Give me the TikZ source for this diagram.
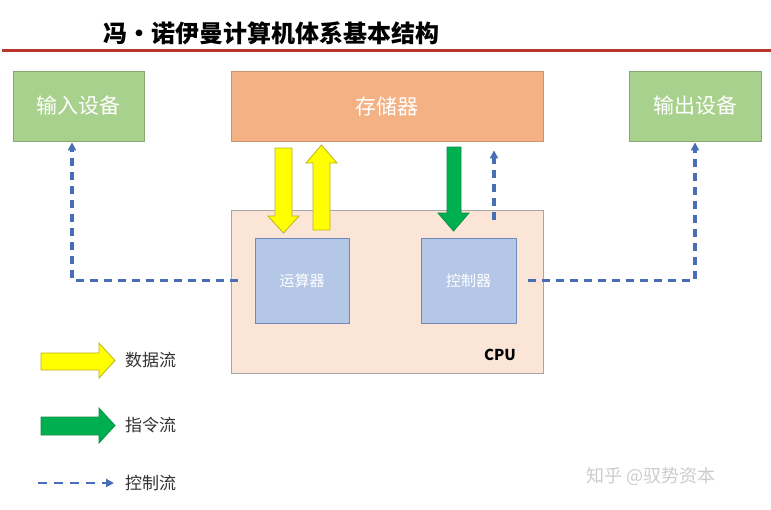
\documentclass[tikz,border=0pt]{standalone}
\usepackage{fontspec}
\setmainfont{Noto Sans CJK SC}
\usetikzlibrary{arrows.meta}
\definecolor{boxgreen}{HTML}{A9D18E}
\definecolor{boxgreenline}{HTML}{86A872}
\definecolor{memor}{HTML}{F4B183}
\definecolor{memline}{HTML}{C9946C}
\definecolor{cpufill}{HTML}{FBE5D6}
\definecolor{cpuline}{HTML}{A6A6A6}
\definecolor{unitfill}{HTML}{B4C7E7}
\definecolor{unitline}{HTML}{6F89B8}
\definecolor{ylw}{HTML}{FFFF00}
\definecolor{ylwline}{HTML}{BDB21A}
\definecolor{grn}{HTML}{00B050}
\definecolor{grnline}{HTML}{0A8F45}
\definecolor{ctrlblue}{HTML}{4A6EB5}
\definecolor{titlered}{HTML}{B7372C}
\definecolor{legtext}{HTML}{333333}
\tikzset{
  devbox/.style={draw=boxgreenline, line width=0.8pt, fill=boxgreen, text=white, font=\fontsize{21}{24}\selectfont, minimum width=131pt, minimum height=70pt, inner sep=0pt},
  membox/.style={draw=memline, line width=0.8pt, fill=memor, text=white, font=\fontsize{21}{24}\selectfont, minimum width=312pt, minimum height=70pt, inner sep=0pt},
  cpubox/.style={draw=cpuline, line width=0.8pt, fill=cpufill, minimum width=312pt, minimum height=163pt, inner sep=0pt},
  unitbox/.style={draw=unitline, line width=0.8pt, fill=unitfill, text=white, font=\fontsize{15}{18}\selectfont, minimum width=94pt, minimum height=85pt, inner sep=0pt},
  ctrl/.style={draw=ctrlblue, line width=3.2pt, dash pattern=on 8pt off 6pt, -{Triangle[length=8pt,width=8pt]}},
  yarrow/.style={draw=ylwline, line width=0.8pt, fill=ylw, line join=miter},
  garrow/.style={draw=grnline, line width=0.8pt, fill=grn, line join=miter},
  legend/.style={text=legtext, font=\fontsize{17}{20}\selectfont, anchor=west, inner sep=0pt},
}
\begin{document}
\begin{tikzpicture}[x=1pt,y=-1pt]
\useasboundingbox[fill=white] (0,0) rectangle (771,509);
% title
\node[font=\fontsize{24}{27}\selectfont\bfseries, anchor=west, inner sep=0pt] (title) at (103,33) {冯•诺伊曼计算机体系基本结构};
\draw[titlered, line width=3pt] (2,50) -- (771,50);
% boxes
\node[cpubox] (cpu) at (387,291.5) {};
\node[devbox] (in) at (78.5,106) {输入设备};
\node[membox] (mem) at (387,106) {存储器};
\node[devbox, minimum width=132pt] (out) at (695,106) {输出设备};
\node[unitbox] (alu) at (302,280.5) {运算器};
\node[unitbox, minimum width=95pt] (ctl) at (468.5,280.5) {控制器};
\node[font=\fontsize{15}{18}\selectfont\bfseries, inner sep=0pt] (cpulabel) at (500,355) {CPU};
% data flow arrows
\draw[yarrow] (275,148) -- (292,148) -- (292,216) -- (299,216) -- (283.5,233) -- (268,216) -- (275,216) -- cycle;
\draw[yarrow] (313,230) -- (330,230) -- (330,163) -- (337,163) -- (321.5,145) -- (306,163) -- (313,163) -- cycle;
% instruction flow
\draw[garrow] (447,147) -- (461,147) -- (461,213) -- (469,213) -- (453.5,231) -- (438,213) -- (447,213) -- cycle;
% control flows
\draw[ctrl] ([xshift=107pt,yshift=-10pt]cpu.north) -- ([xshift=107pt,yshift=-9pt]mem.south);
\draw[ctrl] ([xshift=-17pt]alu.west) -| ([xshift=-6.5pt,yshift=-1pt]in.south);
\draw[ctrl] ([xshift=12pt]ctl.east) -| ([yshift=-1pt]out.south);
% legend
\draw[yarrow] (41,353) -- (99,353) -- (99,343) -- (115,360.5) -- (99,378) -- (99,370) -- (41,370) -- cycle;
\node[legend] (l1) at (125,360) {数据流};
\draw[garrow] (41,417) -- (99,417) -- (99,408) -- (115,425.5) -- (99,443) -- (99,435) -- (41,435) -- cycle;
\node[legend] (l2) at (125,425) {指令流};
\coordinate (ls) at (38,483);
\coordinate (le) at (114,483);
\draw[ctrl, line width=2.8pt, dash pattern=on 9pt off 7pt] (ls) -- (le);
\node[legend] (l3) at (125,483) {控制流};
% watermark
\node[text=black!20, font=\fontsize{18}{20}\selectfont, anchor=west, inner sep=0pt] (wm) at (586,476) {知乎 @驭势资本};
\end{tikzpicture}
\end{document}
